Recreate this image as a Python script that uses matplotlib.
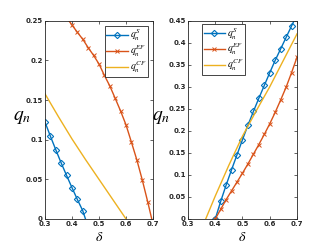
import matplotlib
matplotlib.use("Agg")
import matplotlib.pyplot as plt
import numpy as np

plt.rcParams['mathtext.fontset'] = 'stix'

# ---- Data (left panel) ----
xl_S = [0.30, 0.32, 0.34, 0.36, 0.38, 0.40, 0.42, 0.44, 0.45]
yl_S = [0.1225, 0.1046, 0.0875, 0.0708, 0.0550, 0.0396, 0.0246, 0.0104, 0.0]
xl_EF = [0.38, 0.40, 0.42, 0.44, 0.46, 0.48, 0.50, 0.52, 0.54, 0.56, 0.58,
         0.60, 0.62, 0.64, 0.66, 0.68, 0.695]
yl_EF = [0.254, 0.2446, 0.2354, 0.2266, 0.2160, 0.2063, 0.1954, 0.1810, 0.1677,
         0.1520, 0.1360, 0.1185, 0.0967, 0.0744, 0.0492, 0.0218, 0.0]
xl_CF = [0.30, 0.35, 0.40, 0.45, 0.50, 0.55, 0.60]
yl_CF = [0.158, 0.129, 0.101, 0.075, 0.050, 0.025, 0.0]

# ---- Data (right panel) ----
xr_S = [0.40, 0.42, 0.44, 0.46, 0.48, 0.50, 0.52, 0.54, 0.56, 0.58, 0.60,
        0.62, 0.64, 0.66, 0.68, 0.70]
yr_S = [0.0, 0.040, 0.077, 0.112, 0.146, 0.180, 0.213, 0.244, 0.274, 0.303,
        0.332, 0.360, 0.386, 0.412, 0.438, 0.464]
xr_EF = [0.40, 0.42, 0.44, 0.46, 0.48, 0.50, 0.52, 0.54, 0.56, 0.58, 0.60,
         0.62, 0.64, 0.66, 0.68, 0.70]
yr_EF = [0.0, 0.022, 0.044, 0.064, 0.084, 0.104, 0.125, 0.147, 0.169, 0.192,
         0.216, 0.242, 0.270, 0.299, 0.332, 0.367]
xr_CF = [0.365, 0.40, 0.45, 0.50, 0.55, 0.60, 0.65, 0.70]
yr_CF = [0.0, 0.052, 0.122, 0.188, 0.245, 0.300, 0.360, 0.420]

xticks = [0.3, 0.4, 0.5, 0.6, 0.7]
yticks_l = [0, 0.05, 0.1, 0.15, 0.2, 0.25]
yticks_r = [0, 0.05, 0.1, 0.15, 0.2, 0.25, 0.3, 0.35, 0.4, 0.45]
ytl_l = ['0', '0.05', '0.1', '0.15', '0.2', '0.25']
ytl_r = ['0', '0.05', '0.1', '0.15', '0.2', '0.25', '0.3', '0.35', '0.4', '0.45']
xtl = ['0.3', '0.4', '0.5', '0.6', '0.7']
labels = [r'$q_n^{S}$', r'$q_n^{EF}$', r'$q_n^{CF}$']

blue = '#0072BD'
orange = '#D95319'
yellow = '#EDB120'
axcol = '#262626'

fig = plt.figure(figsize=(3.23, 2.49), dpi=100)
axL = fig.add_axes([0.139, 0.1205, 0.335, 0.7964])
axR = fig.add_axes([0.582, 0.1205, 0.3375, 0.7964])

def style(ax, yt, ytl, ymax, lx, ly):
    ax.set_xlim(0.3, 0.7)
    ax.set_ylim(0, ymax)
    ax.set_xticks(xticks)
    ax.set_xticklabels(xtl)
    ax.set_yticks(yt)
    ax.set_yticklabels(ytl)
    ax.tick_params(direction='in', length=2.5, width=0.5, labelsize=5,
                   top=True, right=True, colors=axcol, pad=1.5)
    for lab in ax.get_xticklabels() + ax.get_yticklabels():
        lab.set_fontweight('bold')
    for s in ax.spines.values():
        s.set_linewidth(0.6)
        s.set_color(axcol)
    ax.set_xlabel(r'$\delta$', fontsize=10, labelpad=2)
    ax.set_ylabel(r'$q_n$', fontsize=14, rotation=0, labelpad=8)
    ax.yaxis.set_label_coords(lx, ly)

def legend(ax, **kw):
    leg = ax.legend(fontsize=7, fancybox=False, edgecolor=axcol, framealpha=1,
                    handlelength=2.2, borderpad=0.2, labelspacing=0.0,
                    handletextpad=0.2, **kw)
    leg.get_frame().set_linewidth(0.6)
    return leg

axL.plot(xl_S, yl_S, color=blue, lw=1.0, marker='D', ms=3.2, mfc='none',
         mew=0.8, markevery=list(range(8)), label=labels[0])
axL.plot(xl_EF, yl_EF, color=orange, lw=1.0, marker='x', ms=3.2, mew=0.7,
         markevery=list(range(1, 16)), label=labels[1])
axL.plot(xl_CF, yl_CF, color=yellow, lw=1.0, label=labels[2])
style(axL, yticks_l, ytl_l, 0.25, -0.21, 0.47)
legend(axL, loc='upper right', borderaxespad=0.5)

axR.plot(xr_S, yr_S, color=blue, lw=1.0, marker='D', ms=3.2, mfc='none',
         mew=0.8, markevery=list(range(15)), label=labels[0])
axR.plot(xr_EF, yr_EF, color=orange, lw=1.0, marker='x', ms=3.2, mew=0.7,
         label=labels[1])
axR.plot(xr_CF, yr_CF, color=yellow, lw=1.0, label=labels[2])
style(axR, yticks_r, ytl_r, 0.45, -0.25, 0.47)
legend(axR, loc='upper left', bbox_to_anchor=(0.125, 0.985), borderaxespad=0.0)

fig.savefig('out.png', dpi=100)
